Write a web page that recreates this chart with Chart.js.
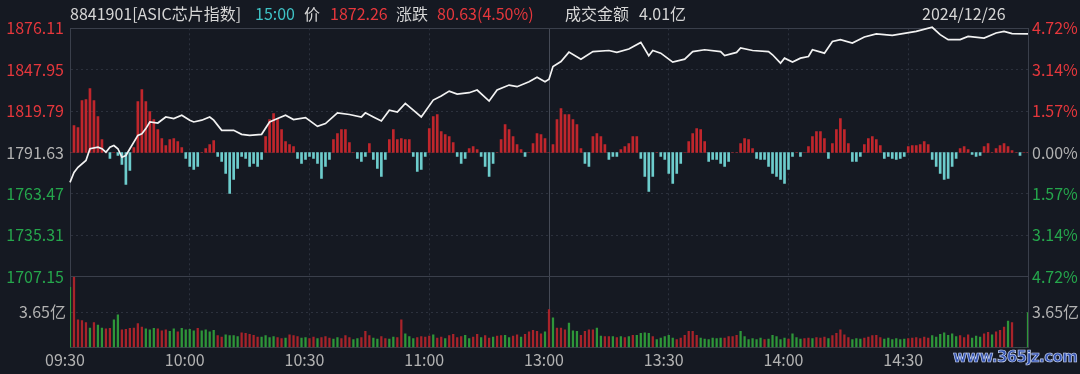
<!DOCTYPE html>
<html>
<head>
<meta charset="utf-8">
<script src="https://cdn.jsdelivr.net/npm/chart.js@4.4.1/dist/chart.umd.min.js"></script>
<style>
html,body{margin:0;padding:0;background:#151922;}
#wrap{position:relative;width:1080px;height:374px;overflow:hidden;background:#151922;}
#c{position:absolute;left:0;top:0;}
.h{position:absolute;top:2px;font-family:"Noto Sans CJK SC","Noto Sans",sans-serif;font-size:16px;line-height:22px;white-space:nowrap;color:#d4d4d4;}
#wm{position:absolute;left:953px;top:348px;font-family:"DejaVu Sans",sans-serif;font-weight:bold;font-size:15px;letter-spacing:-0.6px;color:#3453b0;-webkit-text-stroke:0.7px #c9d6f5;}
</style>
</head>
<body>
<div id="wrap">
<canvas id="c" width="1080" height="374"></canvas>
<div id="header"></div>
<span id="wm">www.365jz.com</span>
</div>
<script>
// ---------- header values ----------
const indexCode = '8841901';
const indexName = 'ASIC芯片指数';
const quoteTime = '15:00';
const lastPrice = '1872.26';
const changeAbs = '80.63';
const changePct = '4.50%';
const turnover = '4.01亿';
const tradeDate = '2024/12/26';

// ---------- axes values ----------
const BASE = 1791.63;                       // previous close
const priceTicks = [1707.15, 1735.31, 1763.47, 1791.63, 1819.79, 1847.95, 1876.11];
const volMax = 7.30;                         // 亿
const volTicks = [3.65];                     // 亿
const gridMinutes = [0, 30, 60, 90, 120, 150, 180, 210, 240];
const timeLabels = ['09:30', '10:00', '10:30', '11:00', '13:00', '13:30', '14:00', '14:30', ''];

// ---------- price line (minute index, price) ----------
const priceMinute = [0,1,2,4,5,7,8,9,10,11,12,13,14,15,17,18,19,20,22,24,26,28,30,31,33,35,36,38,41,43,45,48,50,52,54,56,59,62,64,67,70,73,74,76,78,80,82,84,86,88,91,93,95,97,100,102,105,107,110,112,115,117,119,120,121,123,125,128,131,135,137,140,143,145,146,148,151,154,156,159,163,164,167,168,171,175,176,178,179,181,183,185,186,189,191,193,196,199,202,206,212,216,218,220,223,225,229,232,234,236,240];
const priceValue = [1771.3,1778.1,1781.6,1786.2,1794.2,1795.3,1794.2,1791.8,1795.3,1796.4,1794.2,1788.4,1789.6,1794.2,1803.3,1804.4,1807.9,1812.4,1811.7,1815.8,1814.7,1817.0,1813.6,1812.4,1813.6,1815.8,1813.6,1806.7,1806.7,1804.0,1803.3,1804.0,1812.4,1814.7,1817.0,1814.0,1815.4,1809.4,1811.3,1818.6,1817.5,1815.8,1818.6,1815.8,1813.1,1820.4,1819.2,1825.0,1820.4,1815.8,1827.3,1830.0,1833.4,1831.4,1832.3,1834.1,1826.6,1834.1,1837.5,1836.4,1839.8,1842.8,1839.8,1841.5,1850.1,1853.5,1859.9,1855.1,1860.3,1861.0,1859.7,1862.0,1866.5,1857.4,1861.0,1859.2,1853.1,1855.1,1860.3,1861.5,1860.3,1857.6,1859.7,1862.7,1861.0,1860.3,1858.1,1852.4,1855.8,1853.1,1855.8,1856.9,1861.5,1859.2,1867.2,1868.4,1866.1,1870.2,1872.3,1871.3,1874.0,1876.8,1871.8,1868.4,1868.4,1870.6,1869.5,1872.9,1874.0,1872.5,1872.26];

// ---------- momentum bars, one per minute (+ red / - cyan) ----------
const momentum = [0,27,25,52,53,64,52,36,13,0,
-6,0,-3,-12,-32,-18,5,51,63,51,
41,33,23,14,7,13,14,11,5,-6,
-14,-17,-14,0,4,8,12,-4,-9,-21,
-41,-27,-16,-4,-6,-14,-11,-14,-7,16,
33,39,34,23,11,8,6,-6,-11,-7,
-4,-6,-11,-26,-14,-7,13,19,23,23,
10,0,-6,-9,-4,9,-7,-16,-24,-7,
13,23,13,14,13,13,-4,-19,-17,-4,
24,36,38,21,18,16,10,-4,-11,-6,
4,6,3,-4,-14,-24,-11,0,13,28,
23,16,8,3,-4,0,9,19,18,14,
0,8,33,44,38,38,33,28,4,-11,
-14,16,19,16,8,-7,-4,-4,3,6,
9,16,16,-6,-24,-39,-24,0,-4,-7,
-21,-31,-21,-11,0,11,19,24,23,11,
-9,-7,-7,-11,-14,-9,0,0,9,14,
13,4,-6,-7,-7,-14,-21,-24,-27,-31,
-17,-4,0,-4,0,6,16,21,21,14,
-6,9,23,34,23,9,-9,-9,-4,8,
14,16,13,7,-6,-4,-6,-7,-6,-4,
6,7,7,8,11,8,-7,-14,-21,-27,
-26,-14,-6,4,6,3,-2,-4,-3,6,
9,0,4,7,9,6,2,0,-3,0,0];
const MOMENTUM_TO_PTS = 0.68;   // momentum unit -> index points on the price scale

// ---------- volume per minute (亿) and direction ----------
const volume = [6.20,7.25,2.85,2.75,2.55,2.00,2.55,2.30,2.00,1.90,
1.95,2.85,3.35,1.80,1.85,1.95,2.00,2.45,2.10,1.90,
1.80,1.95,1.90,1.70,1.80,1.65,1.90,1.60,1.95,1.80,
1.85,1.70,1.95,1.70,1.80,1.60,1.75,1.20,1.05,1.30,
1.20,1.20,1.10,1.50,1.45,1.35,1.25,1.05,1.05,1.20,
1.00,1.10,1.00,0.90,0.95,1.30,1.20,1.10,0.95,1.00,
0.90,1.05,0.90,1.00,1.10,0.95,0.85,1.00,0.90,1.20,
1.00,0.80,0.90,1.00,1.65,1.20,0.95,0.85,1.10,0.90,
0.85,1.05,1.00,2.85,1.40,1.10,0.90,1.00,1.10,1.05,
1.15,1.30,0.95,1.05,0.90,1.20,1.35,1.00,1.10,1.25,
0.90,1.05,1.35,1.00,1.20,0.95,1.05,1.15,1.20,1.25,
1.00,1.15,1.30,1.05,1.35,1.60,1.75,1.65,1.40,1.60,
3.90,
3.05,2.00,2.00,1.80,2.50,1.70,1.65,1.25,1.65,1.80,
1.80,2.00,1.15,1.10,1.10,1.10,1.00,1.10,1.00,1.10,
1.25,1.25,1.45,1.50,1.45,1.10,0.80,0.95,1.10,1.25,
0.95,0.80,0.95,1.25,1.65,1.65,1.25,0.95,0.85,0.80,
0.95,0.90,0.95,0.95,1.10,1.10,1.25,1.65,1.10,0.80,
0.90,0.80,0.95,0.80,0.85,1.25,1.10,0.80,0.95,0.85,
1.40,1.00,0.85,0.90,0.95,0.90,1.00,0.95,1.05,0.90,
1.20,1.45,1.80,1.30,1.00,0.80,0.90,0.85,0.95,1.05,
1.20,1.25,1.00,0.85,0.95,0.80,0.90,0.80,0.85,0.90,
0.95,1.00,0.90,1.05,0.95,1.20,1.05,1.35,1.50,1.25,
1.40,1.10,1.20,1.00,1.30,0.95,1.15,1.05,1.40,1.55,
1.30,1.60,1.75,2.10,2.70,2.55,0,0,0,3.60];
const volumeDir = ('grrrrgrggr'+'rggrrrrrrg'+'ggrrrggrgg'+'ggrggggrrg'+'gggrrrrrgg'+'ggrrgrrrgg'+
  'rrgrrrggrr'+'rggrrrggrr'+'ggrrgggrrr'+'rgrrgrrrrg'+'grrgrrgrrg'+'grrgrrrrrg'+'r'+
  'grrrgggrrr'+'rggrrgrgrg'+'rggggrgggg'+'grrrrrrggg'+'gggrrrrggg'+'gggrgggggr'+
  'gggrrgrrrg'+'rrrrrgggrr'+'rrrggggggr'+'rrrrrggggg'+'ggrrrgggrr'+'grrrgrgggg').split('');

// ---------- styles ----------
const FONT = '"Noto Sans CJK SC", "Noto Sans", sans-serif';
const C_RED_TXT = '#e5373c';
const C_GREEN_TXT = '#25a64c';
const C_GRAY_TXT = '#b2b2b2';
const C_FRAME = '#3a3f4b';
const C_GRID = '#2c313d';
const C_MID = '#454a56';

// header
const hdr = [
  [70, indexCode + '[' + indexName + ']', '#d6d6d6'],
  [255, quoteTime, '#3fc3c6'],
  [304, '价', '#d6d6d6'],
  [330, lastPrice, C_RED_TXT],
  [396, '涨跌', '#d6d6d6'],
  [437, changeAbs + '(' + changePct + ')', C_RED_TXT],
  [565, '成交金额', '#d6d6d6'],
  [639, turnover, '#d6d6d6'],
  [922, tradeDate, '#d6d6d6']
];
document.getElementById('header').innerHTML = hdr.map(h =>
  `<span class="h" style="left:${h[0]}px;color:${h[2]}">${h[1]}</span>`).join('');

const pctTicks = priceTicks.map(p => (p / BASE - 1) * 100);
const pctMax = pctTicks[pctTicks.length - 1];
const near = (a, b) => Math.abs(a - b) < 1e-6;
const signColor = (d) => d > 1e-9 ? C_RED_TXT : (d < -1e-9 ? C_GREEN_TXT : C_GRAY_TXT);
const isEdge = v => near(v, priceTicks[0]) || near(v, priceTicks[priceTicks.length - 1]);

const ctx = document.getElementById('c').getContext('2d');
new Chart(ctx, {
  type: 'line',
  data: {
    datasets: [
      {
        type: 'line',
        label: 'price',
        data: priceMinute.map((m, k) => ({ x: m, y: priceValue[k] })),
        xAxisID: 'x', yAxisID: 'yP',
        borderColor: '#f2f2f2', borderWidth: 1.7,
        pointRadius: 0, tension: 0, fill: false, order: 0, clip: 6
      },
      {
        type: 'bar',
        label: 'momentum',
        data: momentum.map((d, i) => ({ x: i, y: [BASE, BASE + d * MOMENTUM_TO_PTS] })),
        xAxisID: 'x', yAxisID: 'yP',
        backgroundColor: momentum.map(d => d >= 0 ? '#c0262c' : '#6dcccc'),
        barThickness: 2, grouped: false, order: 2
      },
      {
        type: 'bar',
        label: 'volume',
        data: volume.map((v, i) => ({ x: i, y: v })),
        xAxisID: 'x', yAxisID: 'yV',
        backgroundColor: volumeDir.map(c => c === 'r' ? '#a8232a' : '#2e9639'),
        barThickness: 1.6, grouped: false, order: 1
      }
    ]
  },
  options: {
    responsive: false,
    animation: false,
    devicePixelRatio: 1,
    layout: { padding: { top: 28.3, left: 0, right: 0, bottom: 0 } },
    plugins: { legend: { display: false }, tooltip: { enabled: false } },
    scales: {
      x: {
        type: 'linear', position: 'bottom', min: 0, max: 240, offset: false,
        afterBuildTicks: s => { s.ticks = gridMinutes.map(v => ({ value: v })); },
        afterFit: s => { s.height = 26.7; },
        ticks: {
          autoSkip: false, maxRotation: 0, padding: 3, labelOffset: -5, color: C_GRAY_TXT,
          font: { family: FONT, size: 16 },
          callback: v => timeLabels[gridMinutes.indexOf(v)]
        },
        grid: {
          drawTicks: false, offset: false,
          color: c => {
            const v = c.tick ? c.tick.value : -1;
            if (v === 0 || v === 240) return 'rgba(0,0,0,0)';
            return v === 120 ? C_MID : C_GRID;
          }
        },
        border: {
          display: true, color: C_FRAME,
          dash: c => (c.tick && c.tick.value === 120) ? [] : [2, 3]
        }
      },
      // left stack: declared bottom-first (Chart.js places later-declared left axes on top)
      yV: {
        type: 'linear', position: 'left', stack: 'L', stackWeight: 70.6,
        min: 0, max: volMax,
        afterBuildTicks: s => { s.ticks = volTicks.map(v => ({ value: v })); },
        afterFit: s => { s.width = 70; },
        ticks: {
          padding: 4, color: C_GRAY_TXT, font: { family: FONT, size: 16 },
          callback: v => v.toFixed(2) + '亿'
        },
        grid: { drawTicks: false, color: C_GRID },
        border: { display: true, color: C_FRAME, dash: [2, 3] }
      },
      yP: {
        type: 'linear', position: 'left', stack: 'L', stackWeight: 248.4,
        min: priceTicks[0], max: priceTicks[priceTicks.length - 1],
        afterBuildTicks: s => { s.ticks = priceTicks.map(v => ({ value: v })); },
        afterFit: s => { s.width = 70; },
        ticks: {
          padding: 6, color: c => signColor(c.tick.value - BASE),
          font: { family: FONT, size: 16 },
          callback: v => v.toFixed(2)
        },
        grid: {
          drawTicks: false,
          color: c => (c.tick && isEdge(c.tick.value)) ? C_FRAME : C_GRID
        },
        border: {
          display: true, color: C_FRAME,
          dash: c => (c.tick && isEdge(c.tick.value)) ? [] : [2, 3]
        }
      },
      yPR: {
        type: 'linear', position: 'right', stack: 'R', stackWeight: 248.4,
        min: -pctMax, max: pctMax,
        afterBuildTicks: s => { s.ticks = pctTicks.map(v => ({ value: v })); },
        afterFit: s => { s.width = 52; },
        ticks: {
          padding: 4, color: c => signColor(c.tick.value),
          font: { family: FONT, size: 16 },
          callback: v => Math.abs(v).toFixed(2) + '%'
        },
        grid: { display: false, drawTicks: false },
        border: { display: true, color: C_FRAME }
      },
      yVR: {
        type: 'linear', position: 'right', stack: 'R', stackWeight: 70.6,
        min: 0, max: volMax,
        afterBuildTicks: s => { s.ticks = volTicks.map(v => ({ value: v })); },
        afterFit: s => { s.width = 52; },
        ticks: {
          padding: 4, color: C_GRAY_TXT, font: { family: FONT, size: 16 },
          callback: v => v.toFixed(2) + '亿'
        },
        grid: { display: false, drawTicks: false },
        border: { display: true, color: C_FRAME }
      }
    }
  }
});
</script>
</body>
</html>
